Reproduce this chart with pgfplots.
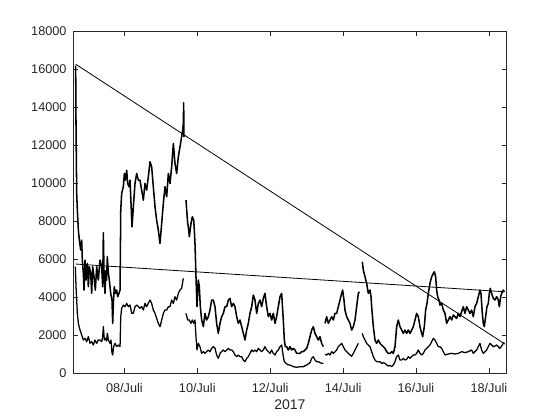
\documentclass[border=0pt]{standalone}
\usepackage{fontspec}
\setmainfont{Liberation Sans}
\usepackage{pgfplots}
\pgfplotsset{compat=1.18}
\definecolor{axgray}{RGB}{38,38,38}
\begin{document}
\begin{tikzpicture}
\useasboundingbox (0,0) rectangle (420pt,315pt);
\begin{axis}[
  at={(54.75pt,35pt)}, anchor=south west,
  scale only axis, width=325.3pt, height=256.5pt,
  xmin=6.59, xmax=18.49, ymin=0, ymax=18000,
  unbounded coords=jump,
  axis line style={axgray, line width=0.5pt},
  tick style={axgray, line width=0.5pt},
  major tick length=3.75pt,
  tick align=inside,
  xtick={8,10,12,14,16,18},
  xticklabels={08/Juli,10/Juli,12/Juli,14/Juli,16/Juli,18/Juli},
  ytick={0,2000,4000,6000,8000,10000,12000,14000,16000,18000},
  /pgf/number format/assume math mode=true,
  /pgf/number format/1000 sep={},
  scaled y ticks=false,
  tick label style={font=\fontsize{9.5}{11}\selectfont, text=axgray},
  xticklabel style={anchor=north, inner sep=0pt, yshift=-7.3pt},
  yticklabel style={anchor=east, inner sep=0pt, xshift=-4.7pt},
  xlabel={2017},
  xlabel style={at={(axis description cs:0.5,0)}, anchor=north, inner sep=0pt, yshift=-19.3pt, font=\fontsize{10.5}{12}\selectfont, text=axgray},
]
% upper series
\addplot[black, line width=1.15pt, line join=round] coordinates {
(6.663,16200) (6.673,12970) (6.691,9470) (6.709,8590) (6.737,7540) (6.764,7010) (6.801,6490) (6.828,7010) (6.846,5960) (6.874,5260) (6.892,4380) (6.920,5960) (6.947,4910) (6.984,5790) (7.011,4560) (7.038,5610) (7.075,5260) (7.102,4210) (7.130,5610) (7.166,5090) (7.203,4380) (7.240,5610) (7.285,4910) (7.331,5960) (7.377,5610) (7.404,4560) (7.423,7400) (7.441,5260) (7.468,4210) (7.485,5400) (7.510,4900)
(7.532,6140) (7.560,5260) (7.587,4910) (7.624,4210) (7.660,3860) (7.679,2630) (7.697,3680) (7.724,4560) (7.752,4210) (7.788,4380) (7.816,4030) (7.852,4210) (7.881,4380) (7.900,8590) (7.925,9470) (7.971,9820) (7.999,10520) (8.026,10170) (8.063,10690) (8.090,9990) (8.127,9820) (8.154,10170) (8.182,8940) (8.209,7710) (8.246,8770) (8.291,9990) (8.337,10520) (8.383,10170)
(8.428,10169) (8.474,9643) (8.520,9117) (8.565,9994) (8.611,9643) (8.657,10344) (8.703,11133) (8.748,10870) (8.794,9818) (8.840,8767) (8.885,8065) (8.931,7539) (8.977,6838) (9.023,7890) (9.068,8942) (9.114,9818) (9.160,9292) (9.206,10520) (9.251,9994) (9.297,10870) (9.343,12097) (9.388,11045) (9.434,10520) (9.480,11396) (9.526,11922) (9.571,12448) (9.599,12798) (9.617,13149) (9.626,14236) (9.635,12448) (9.66,nan)
(9.690,9117) (9.736,7890) (9.754,7715) (9.782,7189) (9.827,7890) (9.864,8241) (9.901,8065) (9.919,7539) (9.937,6838) (9.964,5085) (9.992,3508)
(10.028,4909) (10.056,4558) (10.083,3507) (10.120,2805) (10.166,2455) (10.211,3156) (10.257,2805) (10.303,2981) (10.349,3331) (10.394,3857) (10.440,3857) (10.486,3507) (10.531,2630) (10.577,2104) (10.623,2630) (10.669,2981) (10.714,3156) (10.760,3507) (10.806,3507) (10.852,3857) (10.897,3945) (10.943,3507) (10.989,3682) (11.034,3507) (11.080,2981) (11.126,2630) (11.172,2805) (11.217,2455) (11.263,2104) (11.309,1754) (11.355,2280) (11.400,2630) (11.446,3156) (11.492,3507) (11.537,4120) (11.583,3857) (11.629,3156) (11.675,3682) (11.720,3857) (11.766,3507) (11.812,3945) (11.857,4208) (11.903,3507) (11.949,2981) (11.995,3156) (12.040,2805) (12.086,3156) (12.132,2630) (12.177,2981) (12.223,3507) (12.269,4033) (12.315,4208)
(12.360,2805) (12.388,1754) (12.415,1403) (12.452,1403) (12.498,1228) (12.543,1403) (12.589,1228) (12.635,1315) (12.681,1228) (12.726,1052) (12.772,1052) (12.818,1052) (12.863,1140) (12.909,1140) (12.955,1228) (13.001,1315) (13.046,1578) (13.092,1929) (13.138,2280) (13.184,2455) (13.229,2104) (13.275,1929) (13.321,1754) (13.366,1929) (13.412,1578) (13.458,1403) (13.48,nan)
(13.504,2630) (13.549,2981) (13.595,2630) (13.641,2805) (13.686,2981) (13.732,2805) (13.778,3156) (13.824,3156) (13.869,3507) (13.915,3857) (13.961,4208) (13.988,4383) (14.025,3857) (14.052,3331) (14.098,2981) (14.144,2805) (14.189,2630) (14.235,2280) (14.281,2455) (14.327,2805) (14.372,3507) (14.418,4208) (14.446,4295) (14.49,nan)
(14.528,5873) (14.555,5435) (14.601,5084) (14.647,4734) (14.692,4208) (14.738,4383) (14.766,4033) (14.784,3507) (14.830,2455) (14.875,1754) (14.921,1578) (14.967,1754) (15.013,1578) (15.058,1491) (15.104,1403) (15.150,1315) (15.195,1140) (15.241,1052) (15.287,1052) (15.333,1140) (15.378,1052) (15.424,1403) (15.470,2455) (15.516,2805) (15.561,2455) (15.607,2280) (15.653,2104) (15.698,2280) (15.744,2104) (15.790,2280) (15.836,2104) (15.881,2280) (15.927,2455) (15.973,2805) (16.018,3156) (16.064,2981) (16.110,2455) (16.156,2104) (16.183,1929) (16.229,2455) (16.265,3331) (16.302,3682) (16.339,4208) (16.384,4734) (16.430,5084) (16.476,5259) (16.503,5347) (16.540,5084) (16.567,4383) (16.595,4033) (16.631,3857)
(16.658,3594) (16.704,3682) (16.750,3331) (16.795,3156) (16.841,2630) (16.887,2805) (16.933,2981) (16.978,2805) (17.024,3068) (17.070,2981) (17.115,2893) (17.161,3156) (17.207,2981) (17.253,3244) (17.298,3507) (17.344,3156) (17.390,3507) (17.436,3331) (17.481,3156) (17.527,3331) (17.573,2981) (17.618,3507) (17.664,3682) (17.710,4033) (17.756,4383) (17.783,4208) (17.820,3156) (17.847,2630) (17.874,2455) (17.911,2981) (17.948,3507) (17.984,3682) (18.012,4208) (18.039,4471) (18.076,4208) (18.121,3945) (18.167,3857) (18.213,4033) (18.259,3857) (18.286,3507) (18.323,4033) (18.350,4208) (18.396,4383) (18.423,4295)
};
% lower series
\addplot[black, line width=0.95pt, line join=round] coordinates {
(6.654,5611) (6.673,4560) (6.691,3858) (6.709,3157) (6.737,2631) (6.782,2281) (6.828,2018) (6.874,1755) (6.920,1843) (6.965,1667) (7.011,1930) (7.057,1580) (7.102,1667) (7.148,1492) (7.194,1755) (7.240,1580) (7.285,1755) (7.331,1755) (7.377,1667) (7.404,1930) (7.423,2456) (7.450,1755) (7.485,1850) (7.510,1700)
(7.532,2105) (7.560,1755) (7.605,1580) (7.633,1755) (7.660,1054) (7.679,966) (7.706,1404) (7.743,1580) (7.788,1404) (7.834,1492) (7.881,1404) (7.900,2982) (7.925,3420) (7.971,3596) (8.017,3508) (8.063,3683) (8.108,3508) (8.154,3596) (8.200,3157) (8.246,3157) (8.291,3508) (8.337,3596) (8.383,3508)
(8.428,3420) (8.474,3508) (8.520,3332) (8.565,3683) (8.611,3508) (8.657,3683) (8.703,3858) (8.748,3683) (8.794,3332) (8.840,3157) (8.885,2894) (8.931,2631) (8.977,2456) (9.023,2806) (9.068,3157) (9.114,3332) (9.160,3332) (9.206,3508) (9.251,3508) (9.297,3858) (9.343,3683) (9.388,4033) (9.434,3858) (9.480,4209) (9.526,4384) (9.571,4472) (9.617,4998) (9.65,nan)
(9.690,3157) (9.736,2806) (9.782,2806) (9.827,2631) (9.864,2806) (9.901,2631) (9.937,2806) (9.964,1930) (9.992,1229)
(10.028,1578) (10.074,1403) (10.120,1052) (10.166,1140) (10.211,1052) (10.257,1140) (10.303,1228) (10.349,1140) (10.394,1315) (10.440,1403) (10.486,1315) (10.531,965) (10.577,790) (10.623,1052) (10.669,1140) (10.714,1228) (10.760,1140) (10.806,1228) (10.852,1315) (10.897,1228) (10.943,1228) (10.989,1140) (11.034,965) (11.080,877) (11.126,965) (11.172,877) (11.217,877) (11.263,702) (11.309,614) (11.355,790) (11.400,877) (11.446,1052) (11.492,1228) (11.537,1140) (11.583,1228) (11.629,1140) (11.675,1315) (11.720,1228) (11.766,1140) (11.812,1228) (11.857,1403) (11.903,1228) (11.949,1140) (11.995,1052) (12.040,1228) (12.086,1052) (12.132,965) (12.177,1140) (12.223,1228) (12.269,1403) (12.315,1491)
(12.360,877) (12.388,614) (12.434,526) (12.498,439) (12.543,439) (12.635,351) (12.726,316) (12.818,351) (12.909,351) (13.001,439) (13.092,561) (13.138,790) (13.184,877) (13.229,702) (13.275,614) (13.321,614) (13.366,561) (13.412,526) (13.458,526) (13.48,nan)
(13.504,1000) (13.549,965) (13.595,1052) (13.641,965) (13.686,1140) (13.732,1052) (13.778,1140) (13.824,1228) (13.869,1403) (13.915,1491) (13.961,1578) (14.007,1403) (14.052,1228) (14.098,1140) (14.144,1052) (14.189,965) (14.235,900) (14.281,1052) (14.327,1228) (14.372,1403) (14.418,1578) (14.48,nan)
(14.528,2104) (14.555,1929) (14.601,1754) (14.647,1578) (14.692,1491) (14.738,1403) (14.784,1140) (14.830,877) (14.875,702) (14.921,614) (14.967,614) (15.013,614) (15.058,526) (15.104,561) (15.150,526) (15.195,439) (15.241,386) (15.287,421) (15.333,351) (15.378,439) (15.424,614) (15.470,877) (15.516,965) (15.561,702) (15.607,702) (15.653,790) (15.698,702) (15.744,737) (15.790,877) (15.836,790) (15.881,877) (15.927,965) (15.973,965) (16.018,1052) (16.064,1228) (16.110,1052) (16.156,965) (16.201,1052) (16.247,1228) (16.293,1315) (16.339,1403) (16.384,1491) (16.430,1666) (16.476,1841) (16.521,1754) (16.567,1578) (16.613,1403)
(16.658,1403) (16.704,1315) (16.750,1140) (16.795,965) (16.887,1017) (16.978,1052) (17.070,1017) (17.161,1052) (17.253,1140) (17.344,1087) (17.436,1140) (17.527,1228) (17.573,1052) (17.618,1140) (17.664,1228) (17.710,1403) (17.756,1578) (17.801,1228) (17.847,1052) (17.893,1140) (17.939,1228) (17.984,1403) (18.030,1578) (18.076,1491) (18.121,1403) (18.167,1438) (18.213,1491) (18.259,1403) (18.304,1315) (18.350,1438) (18.396,1578) (18.423,1613)
};
% trend lines
\addplot[black, line width=0.6pt] coordinates {(6.663,16270) (18.44,1541)};
\addplot[black, line width=0.6pt] coordinates {(6.663,5752) (18.44,4292)};
\end{axis}
\end{tikzpicture}
\end{document}
